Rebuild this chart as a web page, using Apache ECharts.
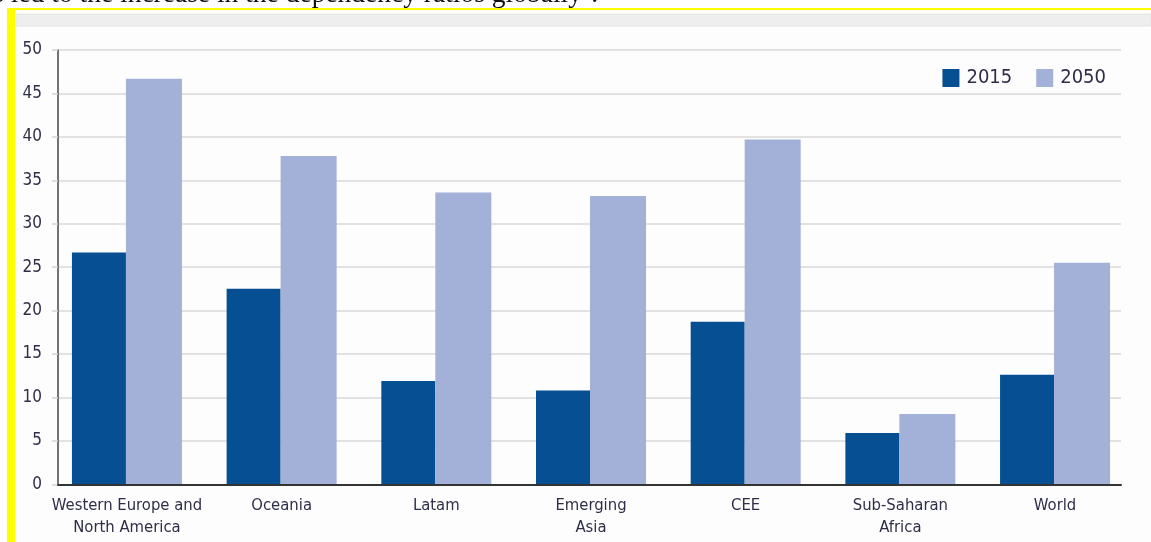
<!DOCTYPE html>
<html>
<head>
<meta charset="utf-8">
<title>Old-age dependency ratio, 2015 vs 2050</title>
<script src="https://cdn.jsdelivr.net/npm/echarts@6/dist/echarts.min.js"></script>
<style>
  html, body { margin: 0; padding: 0; background: #ffffff; }
  #chart { width: 1151px; height: 542px; }
</style>
</head>
<body>
<div id="chart"></div>
<script>
// Regions shown along the x axis
const categories = [
  'Western Europe and\nNorth America',
  'Oceania',
  'Latam',
  'Emerging\nAsia',
  'CEE',
  'Sub-Saharan\nAfrica',
  'World'
];
// Ratio values per region
const values2015 = [26.7, 22.5, 11.9, 10.8, 18.7, 5.9, 12.6];
const values2050 = [46.7, 37.8, 33.6, 33.2, 39.7, 8.1, 25.5];
const seriesNames = ['2015', '2050'];
// Y axis range
const yMin = 0;
const yMax = 50;
const yStep = 5;

const FONT = "'DejaVu Sans Condensed', 'Liberation Sans Narrow', 'Liberation Sans', sans-serif";
const TEXT = '#2e2e48';
const DARK = '#064f93';
const LIGHT = '#a3b0d8';

const chart = echarts.init(document.getElementById('chart'), null, { renderer: 'canvas' });

chart.setOption({
  animation: false,
  backgroundColor: '#ffffff',
  textStyle: { fontFamily: FONT },
  graphic: [
    // panel behind the chart
    { type: 'rect', shape: { x: 15, y: 10, width: 1136, height: 532 }, z: -2,
      style: { fill: '#fdfdfd' } },
    { type: 'rect', shape: { x: 16, y: 14, width: 1135, height: 12 }, z: -1,
      style: { fill: '#eeeeee', stroke: '#e6e6e6', lineWidth: 1 } },
    // trailing sentence of the surrounding text
    { type: 'text', x: 598, y: 8.5, z: -1,
      style: { text: 'has led to the increase in the dependency ratios globally\u2019.',
               font: "27.5px 'Liberation Serif', 'DejaVu Serif', serif",
               fill: '#111111', textAlign: 'right', textVerticalAlign: 'bottom' } },
    // highlight frame
    { type: 'rect', shape: { x: 7, y: 8, width: 1144, height: 2 }, z: 10,
      style: { fill: '#ffff00' } },
    { type: 'rect', shape: { x: 7, y: 8, width: 8, height: 534 }, z: 10,
      style: { fill: '#ffff00' } }
  ],
  legend: {
    data: seriesNames,
    right: 40,
    top: 63,
    itemWidth: 17,
    itemHeight: 18,
    itemGap: 24,
    icon: 'rect',
    textStyle: { fontFamily: FONT, fontSize: 20, color: TEXT, padding: [0, 0, 0, 2] }
  },
  grid: [
    // bar area
    { left: 49.6, right: 18.6, top: 50, bottom: 57.7, containLabel: false },
    // axis frame and gridlines
    { left: 58, right: 30, top: 50, bottom: 57.7, containLabel: false }
  ],
  xAxis: [
    {
      gridIndex: 0,
      type: 'category',
      data: categories,
      axisLine: { show: false },
      axisTick: { show: false },
      axisLabel: {
        margin: 10,
        fontFamily: FONT,
        fontSize: 16.5,
        lineHeight: 22,
        color: TEXT,
        interval: 0
      }
    },
    {
      gridIndex: 1,
      type: 'value',
      min: 0,
      max: 1,
      z: 5,
      axisLine: { show: true, lineStyle: { color: '#333333', width: 2 } },
      axisTick: { show: false },
      axisLabel: { show: false },
      splitLine: { show: false }
    }
  ],
  yAxis: [
    { gridIndex: 0, type: 'value', min: yMin, max: yMax, show: false },
    {
      gridIndex: 1,
      type: 'value',
      min: yMin,
      max: yMax,
      interval: yStep,
      axisLine: { show: true, lineStyle: { color: '#444444', width: 1.5 } },
      axisTick: { show: true, length: 6, lineStyle: { color: '#d4d4d4', width: 1.5 } },
      axisLabel: { margin: 16, fontFamily: FONT, fontSize: 17, color: TEXT },
      splitLine: { show: true, lineStyle: { color: '#d9d9d9', width: 1.5 } }
    }
  ],
  series: [
    {
      name: seriesNames[0],
      type: 'bar',
      xAxisIndex: 0,
      yAxisIndex: 0,
      data: values2015,
      barWidth: 54,
      barGap: '0%',
      itemStyle: { color: DARK },
      z: 2
    },
    {
      name: seriesNames[1],
      type: 'bar',
      xAxisIndex: 0,
      yAxisIndex: 0,
      data: values2050,
      barWidth: 56,
      barGap: '0%',
      itemStyle: { color: LIGHT },
      z: 2
    }
  ]
});
</script>
</body>
</html>
